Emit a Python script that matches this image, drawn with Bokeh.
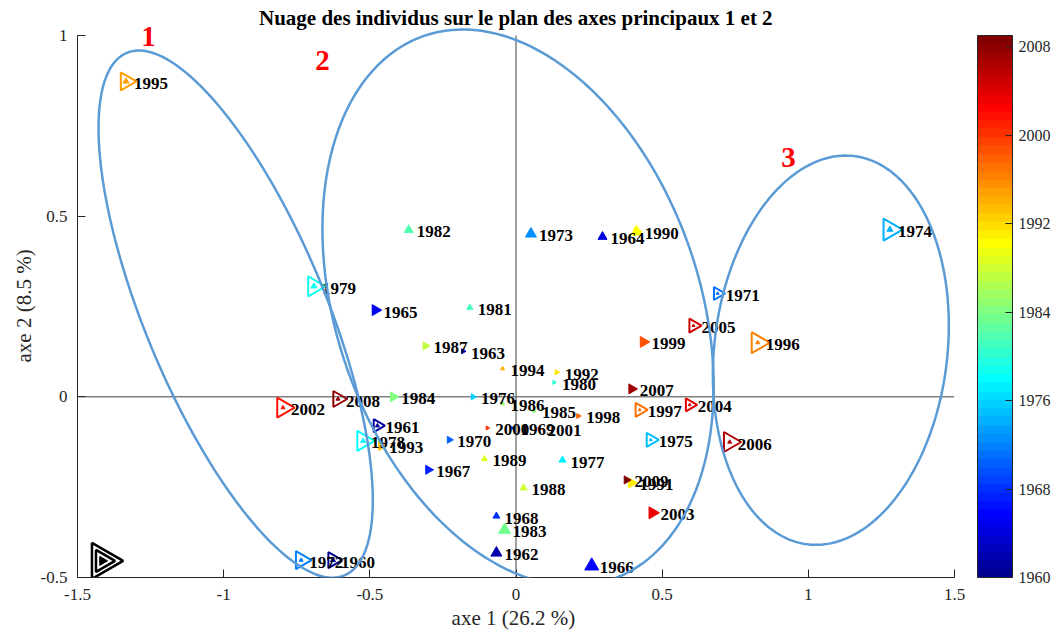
import numpy as np
from bokeh.plotting import figure
from bokeh.models import (ColumnDataSource, LinearColorMapper, ColorBar, FixedTicker,
                          CustomJSTickFormatter, Range1d, Label, PolyAnnotation, Title)
from bokeh.transform import transform
from bokeh.embed import file_html
from bokeh.resources import INLINE
from bokeh.core.properties import value

# ---------------- data ----------------
years = list(range(1960, 2010))
axe1 = [-0.626, -0.474, -0.067, -0.181, 0.296, -0.481, 0.259, -0.300, -0.067, -0.012,
        -0.228, 0.690, -0.735, 0.051, 1.279, 0.461, -0.147, 0.159, -0.523, -0.691,
        0.130, -0.158, -0.367, -0.039, -0.420, 0.062, -0.046, -0.310, 0.026, -0.108,
        0.413, 0.395, 0.139, -0.461, -0.046, -1.334, 0.827, 0.423, 0.213, 0.436,
        -0.098, 0.080, -0.797, 0.467, 0.594, 0.607, 0.731, 0.396, -0.609, 0.378]
axe2 = [-0.452, -0.080, -0.432, 0.126, 0.443, 0.240, -0.468, -0.202, -0.330, -0.086,
        -0.119, 0.286, -0.452, 0.451, 0.463, -0.119, 0.000, -0.175, -0.122, 0.306,
        0.040, 0.247, 0.462, -0.368, 0.000, -0.039, -0.019, 0.141, -0.252, -0.172,
        0.457, -0.238, 0.068, -0.136, 0.078, 0.873, 0.150, -0.036, -0.053, 0.152,
        -0.086, -0.089, -0.030, -0.321, -0.022, 0.197, -0.125, 0.022, -0.006, -0.230]
# quality markers: right-pointing triangle (axis 1), up-pointing triangle (axis 2)
q_axe1 = [16, 13, 4, 5, 0, 11, 0, 9, 0, 3,
          7, 13, 18, 0, 22, 14, 6, 0, 20, 20,
          4, 0, 0, 0, 10, 0, 0, 8, 0, 0,
          9, 10, 5, 9, 0, 18, 21, 14, 5, 11,
          4, 4, 20, 12, 13, 14, 20, 10, 16, 8]
q_axe2 = [5, 4, 11, 0, 9, 0, 14, 0, 7, 0,
          0, 3, 4, 11, 6, 3, 0, 7, 5, 6,
          0, 6, 9, 12, 0, 4, 4, 0, 7, 6,
          11, 0, 0, 5, 4, 6, 4, 3, 0, 0,
          0, 0, 4, 0, 3, 3, 4, 0, 4, 0]

x_ticks = [-1.5, -1, -0.5, 0, 0.5, 1, 1.5]
y_ticks = [-0.5, 0, 0.5, 1]
cbar_ticks = [1960, 1968, 1976, 1984, 1992, 2000, 2008]

title_text = "Nuage des individus sur le plan des axes principaux 1 et 2"
x_label = "axe 1  (26.2 %)"
y_label = "axe 2  (8.5 %)"

cluster_names = ["1", "2", "3"]
cluster_x = [-1.257, -0.662, 0.932]
cluster_y = [0.997, 0.931, 0.662]

# ellipses around the groups: centre (data), semi-axes (px), angle (deg)
ell_x = [-0.959, 0.007, 1.077]
ell_y = [0.229, 0.247, 0.129]
ell_a = [283, 287.5, 195.5]
ell_b = [90.5, 181.5, 116.5]
ell_angle = [112.6, 109.1, 83.2]

key_x = [-1.415]
key_y = [-0.454]

# ---------------- layout ----------------
W, H = 1057, 632
LEFT, TOP, RIGHT, BOTTOM = 77, 35, 103, 55     # axes box inside the page
AX_X, AX_Y = (-1.5, 1.5), (-0.5, 1.0)          # axes limits
FW, FH = W - LEFT - RIGHT, H - TOP - BOTTOM
sx = FW / (AX_X[1] - AX_X[0])
sy = FH / (AX_Y[1] - AX_Y[0])
Y_TOP = AX_Y[1] + TOP / sy                      # frame reaches the page top (no clipping)

# ---------------- MATLAB jet(64) ----------------
def jet(m=64):
    n = int(np.ceil(m / 4))
    u = np.concatenate([np.arange(1, n + 1) / n, np.ones(n - 1), np.arange(n, 0, -1) / n])
    g = int(np.ceil(n / 2)) - (1 if m % 4 == 1 else 0) + np.arange(1, len(u) + 1)
    r = g + n
    b = g - n
    J = np.zeros((m, 3))
    mr = r <= m
    J[r[mr] - 1, 0] = u[mr]
    mg = g <= m
    J[g[mg] - 1, 1] = u[mg]
    mb = b >= 1
    J[b[mb] - 1, 2] = u[mb]
    return ["#%02x%02x%02x" % tuple(int(round(c * 255)) for c in row) for row in J]

palette = jet(64)
mapper = LinearColorMapper(palette=palette, low=1960, high=2009)

SERIF = "Liberation Serif"
TXT = "#262626"

p = figure(width=W, height=H, output_backend="svg", toolbar_location=None,
           x_range=Range1d(*AX_X), y_range=Range1d(AX_Y[0], Y_TOP),
           min_border_left=LEFT, min_border_right=RIGHT, min_border_top=0,
           min_border_bottom=BOTTOM)
p.grid.visible = False
p.outline_line_color = None
p.background_fill_color = "white"
p.border_fill_color = "white"

for ax, t, bnds in ((p.xaxis, x_ticks, AX_X), (p.yaxis, y_ticks, AX_Y)):
    ax.ticker = FixedTicker(ticks=t)
    ax.bounds = bnds
    ax.formatter = CustomJSTickFormatter(code="return tick.toString();")
    ax.major_tick_in = 8
    ax.major_tick_out = 0
    ax.minor_tick_line_color = None
    ax.axis_line_color = TXT
    ax.major_tick_line_color = TXT
    ax.major_label_text_font = SERIF
    ax.major_label_text_font_size = "17px"
    ax.major_label_text_color = TXT
    ax.axis_label_text_font = SERIF
    ax.axis_label_text_font_size = "21px"
    ax.axis_label_text_font_style = "normal"
    ax.axis_label_text_color = TXT
p.xaxis.axis_label = x_label
p.xaxis.major_label_standoff = 11
p.xaxis.axis_label_standoff = 3
p.yaxis.major_label_standoff = 10

# y label centred on the axis span (not on the extended frame)
p.add_layout(Title(text=y_label, align="left", offset=FH // 2 - 56,
                   standoff=4, text_font=SERIF, text_font_size="21px",
                   text_font_style="normal", text_color=TXT), "left")

# title (inside the unclipped frame area, centred over the axes)
p.add_layout(Label(x=0, y=AX_Y[1] + (TOP - 17) / sy, text=title_text, text_font=SERIF,
                   text_font_style="bold", text_font_size="21px", text_color="black",
                   text_align="center", text_baseline="middle"))

# zero lines
p.segment(x0=[AX_X[0], 0], y0=[0, AX_Y[0]], x1=[AX_X[1], 0], y1=[0, AX_Y[1]],
          line_color="#404040", line_width=1)

# ellipses
t = np.linspace(0, 2 * np.pi, 241)
for cx, cy, a, b, ang in zip(ell_x, ell_y, ell_a, ell_b, ell_angle):
    ph = np.deg2rad(ang)
    ex = cx + (a * np.cos(t) * np.cos(ph) - b * np.sin(t) * np.sin(ph)) / sx
    ey = cy + (a * np.cos(t) * np.sin(ph) + b * np.sin(t) * np.cos(ph)) / sy
    p.add_layout(PolyAnnotation(xs=list(ex), ys=list(ey), fill_color=None, fill_alpha=0,
                                line_color="#5b9bd5", line_alpha=1.0, line_width=2.5))

src = ColumnDataSource(dict(year=years, x=axe1, y=axe2, q1=q_axe1, q2=q_axe2,
                            label=[str(y) for y in years]))
d = src.data
def subset(mask):
    return ColumnDataSource({k: [v[i] for i in range(len(years)) if mask(i)] for k, v in d.items()})

col = transform("year", mapper)
hollow = subset(lambda i: q_axe1[i] >= 13)
filled = subset(lambda i: 0 < q_axe1[i] < 13)
ups = subset(lambda i: q_axe2[i] > 0)

p.scatter("x", "y", source=filled, marker="triangle", size="q1", angle=-90, angle_units="deg",
          fill_color=col, line_color=col, line_width=1)
p.scatter("x", "y", source=hollow, marker="triangle", size="q1", angle=-90, angle_units="deg",
          fill_color=None, line_color=col, line_width=2)
p.scatter("x", "y", source=ups, marker="triangle", size="q2",
          fill_color=col, line_color=col, line_width=1)

p.text("x", "y", text="label", source=src, x_offset=8, y_offset=2,
       text_font=value(SERIF), text_font_style="bold", text_font_size="17px",
       text_baseline="middle", text_align="left", text_color="black")

# key marker
p.scatter(key_x, key_y, marker="triangle", size=36, angle=-90, angle_units="deg",
          fill_color=None, line_color="black", line_width=2.5)
p.scatter(key_x, key_y, marker="triangle", size=22, angle=-90, angle_units="deg",
          fill_color=None, line_color="black", line_width=2.5)
p.scatter(key_x, key_y, marker="triangle", size=9, angle=-90, angle_units="deg",
          fill_color="black", line_color="black", line_width=1)

# cluster numbers
for nm, cx, cy in zip(cluster_names, cluster_x, cluster_y):
    p.add_layout(Label(x=cx, y=cy, text=nm, text_font=SERIF, text_font_style="bold",
                       text_font_size="29px", text_color="red",
                       text_align="center", text_baseline="middle"))

cb = ColorBar(color_mapper=mapper, ticker=FixedTicker(ticks=cbar_ticks), width=35,
              height=FH, padding=0, margin=0, location=(23, 0), label_standoff=6,
              major_tick_in=7, major_tick_out=0,
              major_tick_line_color=TXT, bar_line_color=TXT,
              major_label_text_font=SERIF, major_label_text_font_size="16px",
              major_label_text_color=TXT, background_fill_color=None)
p.add_layout(cb, "right")

open("out.html", "w").write(file_html(p, INLINE))
